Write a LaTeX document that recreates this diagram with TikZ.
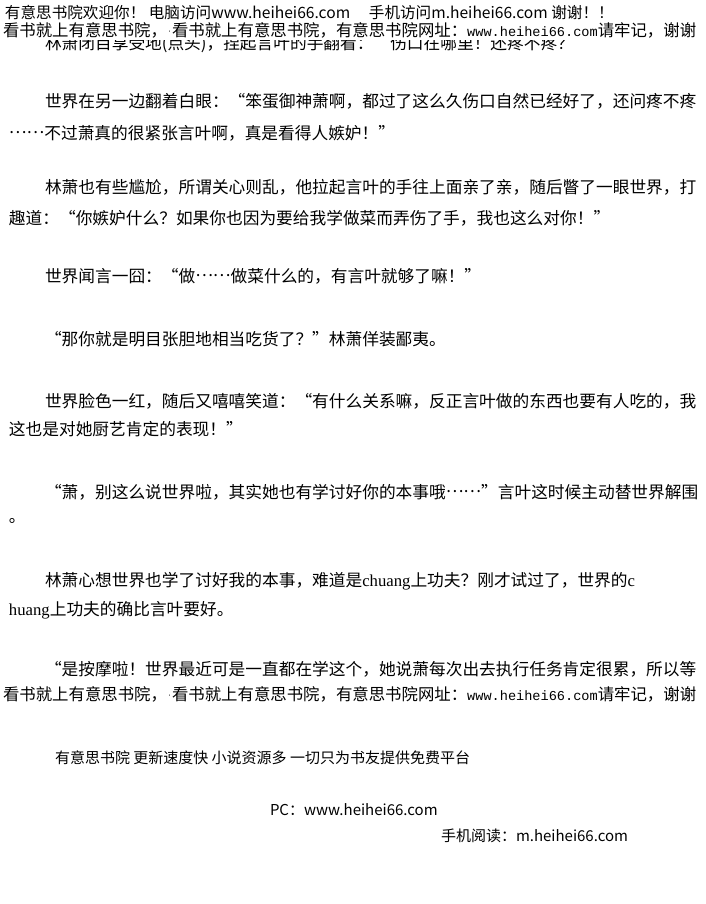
\documentclass[tikz,border=0pt]{standalone}
\usepackage{fontspec}
\usepackage{tikz}
\usetikzlibrary{positioning}
\newfontfamily\cjk{Noto Sans CJK SC}
\newfontfamily\latinserif{Liberation Serif}
\newfontfamily\latinmono{Liberation Mono}
\newcommand{\cjkdots}{\raisebox{0.32em}{……}}
\tikzset{every node/.style={anchor=west, inner sep=0pt, outer sep=0pt}}

\begin{document}
\begin{tikzpicture}[
        x=1pt, y=-1pt,
        banner/.style={
                font=\cjk\fontsize{15.6}{17}\selectfont
            },
        notice/.style={
                font=\cjk\fontsize{16.4}{18}\selectfont
            },
        body/.style={
                font=\cjk\fontsize{16.7}{20}\selectfont
            },
        footer/.style={
                font=\cjk\fontsize{15}{17}\selectfont
            }
    ]
    \useasboundingbox[fill=white] (0,0) rectangle (706,904);
    %half hidden line under the banner
    \begin{scope}
        \clip (0,41) rectangle (706,60);
        \node[body] (hidden) at (45,44) {林萧闭目享受地(点头)，捏起言叶的手翻看：“伤口在哪里！还疼不疼？”};
    \end{scope}
    %banner
    \node[banner] (welcome) at (5,13) {有意思书院欢迎你！ 电脑访问www.heihei66.com\hspace{1.2em}手机访问m.heihei66.com 谢谢！！};
    \node[notice] (noticetop) at (3,30) {看书就上有意思书院，\raisebox{0.3ex}{\tiny·}看书就上有意思书院，有意思书院网址：{\latinmono\fontsize{13.6}{16}\selectfont www.heihei66.com}请牢记，谢谢};
    %paragraphs
    \node[body] (eyes) at (45,101) {世界在另一边翻着白眼：“笨蛋御神萧啊，都过了这么久伤口自然已经好了，还问疼不疼};
    \node[body] (eyesb) at (9,133) {\cjkdots 不过萧真的很紧张言叶啊，真是看得人嫉妒！”};
    \node[body] (awkward) at (45,187) {林萧也有些尴尬，所谓关心则乱，他拉起言叶的手往上面亲了亲，随后瞥了一眼世界，打};
    \node[body] (awkwardb) at (9,218) {趣道：“你嫉妒什么？如果你也因为要给我学做菜而弄伤了手，我也这么对你！”};
    \node[body] (cook) at (45,276) {世界闻言一囧：“做\cjkdots 做菜什么的，有言叶就够了嘛！”};
    \node[body] (foodie) at (45,339) {“那你就是明目张胆地相当吃货了？”林萧佯装鄙夷。};
    \node[body] (blush) at (45,401) {世界脸色一红，随后又嘻嘻笑道：“有什么关系嘛，反正言叶做的东西也要有人吃的，我};
    \node[body] (blushb) at (9,429) {这也是对她厨艺肯定的表现！”};
    \node[body] (rescue) at (45,492) {“萧，别这么说世界啦，其实她也有学讨好你的本事哦\cjkdots ”言叶这时候主动替世界解围};
    \node[body] (rescueb) at (9,521) {。};
    \node[body] (think) at (45,581) {林萧心想世界也学了讨好我的本事，难道是{\latinserif chuang}上功夫？刚才试过了，世界的{\latinserif c}};
    \node[body] (thinkb) at (9,610) {{\latinserif huang}上功夫的确比言叶要好。};
    \node[body] (massage) at (45,669) {“是按摩啦！世界最近可是一直都在学这个，她说萧每次出去执行任务肯定很累，所以等};
    \node[notice] (noticebottom) at (3,694) {看书就上有意思书院，\raisebox{0.3ex}{\tiny·}看书就上有意思书院，有意思书院网址：{\latinmono\fontsize{13.6}{16}\selectfont www.heihei66.com}请牢记，谢谢};
    %footer
    \node[footer] (slogan) at (55,758) {有意思书院 更新速度快 小说资源多 一切只为书友提供免费平台};
    \node[footer] (pc) at (270,810) {PC：www.heihei66.com};
    \node[footer] (mobile) at (441,836) {手机阅读：m.heihei66.com};
\end{tikzpicture}
\end{document}
